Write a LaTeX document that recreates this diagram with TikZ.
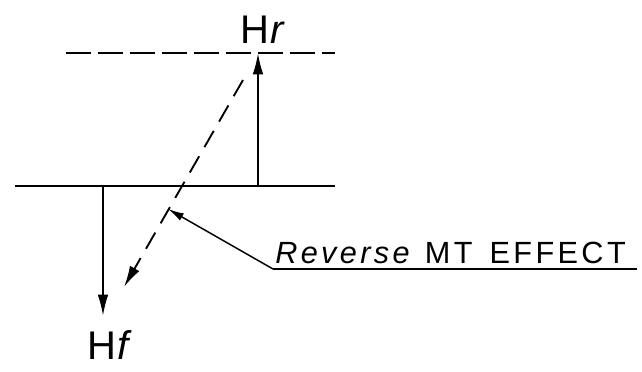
\documentclass[tikz,border=0pt]{standalone}
\usepackage{fontspec}
\setmainfont{Liberation Sans}
\usetikzlibrary{arrows.meta}
\begin{document}
\begin{tikzpicture}[x=0.75pt,y=-0.75pt,
  ln/.style={line width=1.5pt},
  tip/.style={-{Latex[length=16pt,width=8pt]}},
  arr/.style={ln,tip},
  dsh/.style={line width=1.4pt,dash pattern=on 19pt off 5pt},
  dshd/.style={line width=1.4pt,dash pattern=on 14pt off 8pt},
  lbl/.style={font=\fontsize{30}{32}\selectfont,inner sep=0pt}]
\useasboundingbox (0,0) rectangle (642,371);
% base lines
\coordinate (tl) at (66,53);
\coordinate (tr) at (335,53);
\coordinate (bl) at (15,186);
\coordinate (br) at (335,186);
\draw[dsh] (tl) -- (tr);
\draw[ln] (bl) -- (br);
% vertical arrows
\coordinate (ua) at (258,186);
\coordinate (ub) at (258,53);
\draw[arr] (ua) -- (ub);
\coordinate (da) at (103,186);
\coordinate (db) at (103,316);
\draw[arr] (da) -- (db);
% dashed resultant
\coordinate (ra) at (243,80);
\coordinate (rb) at (124,287);
\draw[dshd,tip] (ra) -- (rb);
% labels
\node[lbl] (hr) at (263,30) {H\kern1pt\textit{r}};
\node[lbl] (hf) at (110,345) {H\kern1pt\textit{f}};
% leader
\node[font=\fontsize{23}{25}\selectfont\addfontfeatures{LetterSpace=11},inner sep=0pt,anchor=base west] (txt) at (275,263) {\textit{Reverse} MT\, EFFECT};
\coordinate (la) at (273,269);
\coordinate (lb) at (637,269);
\coordinate (lt) at (168,209);
\draw[line width=1.1pt] (la) -- (lb);
\draw[line width=1.1pt,-{Latex[length=12pt,width=6pt]}] (la) -- (lt);
\end{tikzpicture}
\end{document}
